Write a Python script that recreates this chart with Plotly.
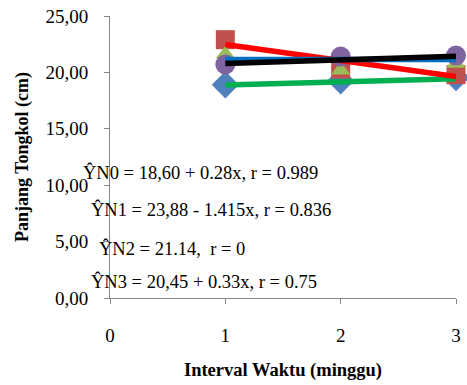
import plotly.graph_objects as go

weeks = [1, 2, 3]
n0 = [18.90, 19.25, 19.55]
n1 = [22.90, 20.30, 19.80]
n2 = [21.60, 20.20, 20.80]
n3 = [20.70, 21.40, 21.50]

trend_n0 = [18.60 + 0.28 * w for w in weeks]
trend_n1 = [23.88 - 1.415 * w for w in weeks]
trend_n2 = [21.14 for w in weeks]
trend_n3 = [20.45 + 0.33 * w for w in weeks]

y_ticks = [0, 5, 10, 15, 20, 25]
y_tick_text = ["0,00", "5,00", "10,00", "15,00", "20,00", "25,00"]
x_ticks = [0, 1, 2, 3]

equations = [
    "ŶN0 = 18,60 + 0.28x, r = 0.989",
    "ŶN1 = 23,88 - 1.415x, r = 0.836",
    "ŶN2 = 21.14,  r = 0",
    "ŶN3 = 20,45 + 0.33x, r = 0.75",
]

SERIF = "Liberation Serif"

fig = go.Figure()
fig.add_trace(go.Scatter(x=weeks, y=n0, mode="markers", cliponaxis=False,
                         marker=dict(symbol="diamond", size=21, color="#4F81BD")))
fig.add_trace(go.Scatter(x=weeks, y=n1, mode="markers", cliponaxis=False,
                         marker=dict(symbol="square", size=19, color="#C0504D")))
fig.add_trace(go.Scatter(x=weeks, y=n2, mode="markers", cliponaxis=False,
                         marker=dict(symbol="triangle-up", size=17, color="#9BBB59")))
fig.add_trace(go.Scatter(x=weeks, y=n3, mode="markers", cliponaxis=False,
                         marker=dict(symbol="circle", size=20, color="#8064A2")))

for yv, col in [(trend_n0, "#00B050"), (trend_n1, "#FF0000"),
                (trend_n2, "#0070C0"), (trend_n3, "#000000")]:
    fig.add_trace(go.Scatter(x=[weeks[0], weeks[-1]], y=[yv[0], yv[-1]], mode="lines",
                             cliponaxis=False, line=dict(color=col, width=5.5)))

ann_pos = [(-0.085, 0.444), (-0.062, 0.313), (-0.039, 0.176), (-0.062, 0.058)]
for txt, (ax, ay) in zip(equations, ann_pos):
    fig.add_annotation(text=txt, xref="paper", yref="paper", x=ax, y=ay,
                       xanchor="left", yanchor="middle", showarrow=False,
                       font=dict(family=SERIF, size=18.5, color="#000000"))

fig.update_layout(
    width=467, height=385,
    margin=dict(l=110, r=6, t=14, b=87),
    paper_bgcolor="white", plot_bgcolor="white",
    showlegend=False,
    font=dict(family=SERIF, size=19, color="#000000"),
    xaxis=dict(range=[0, 3], tickvals=x_ticks, showgrid=False, zeroline=False,
               showline=True, linecolor="#868686", linewidth=1,
               ticks="outside", ticklen=5, tickcolor="#868686",
               ticklabelstandoff=15,
               title=dict(text="<b>Interval Waktu (minggu)</b>", standoff=18,
                          font=dict(family=SERIF, size=18.5))),
    yaxis=dict(range=[0, 25], tickvals=y_ticks, ticktext=y_tick_text, showgrid=False,
               zeroline=False, showline=True, linecolor="#868686", linewidth=1,
               ticks="outside", ticklen=5, tickcolor="#868686",
               ticklabelstandoff=12,
               title=dict(text="<b>Panjang Tongkol (cm)</b>", standoff=12,
                          font=dict(family=SERIF, size=18))),
)

fig.write_html("out.html")
